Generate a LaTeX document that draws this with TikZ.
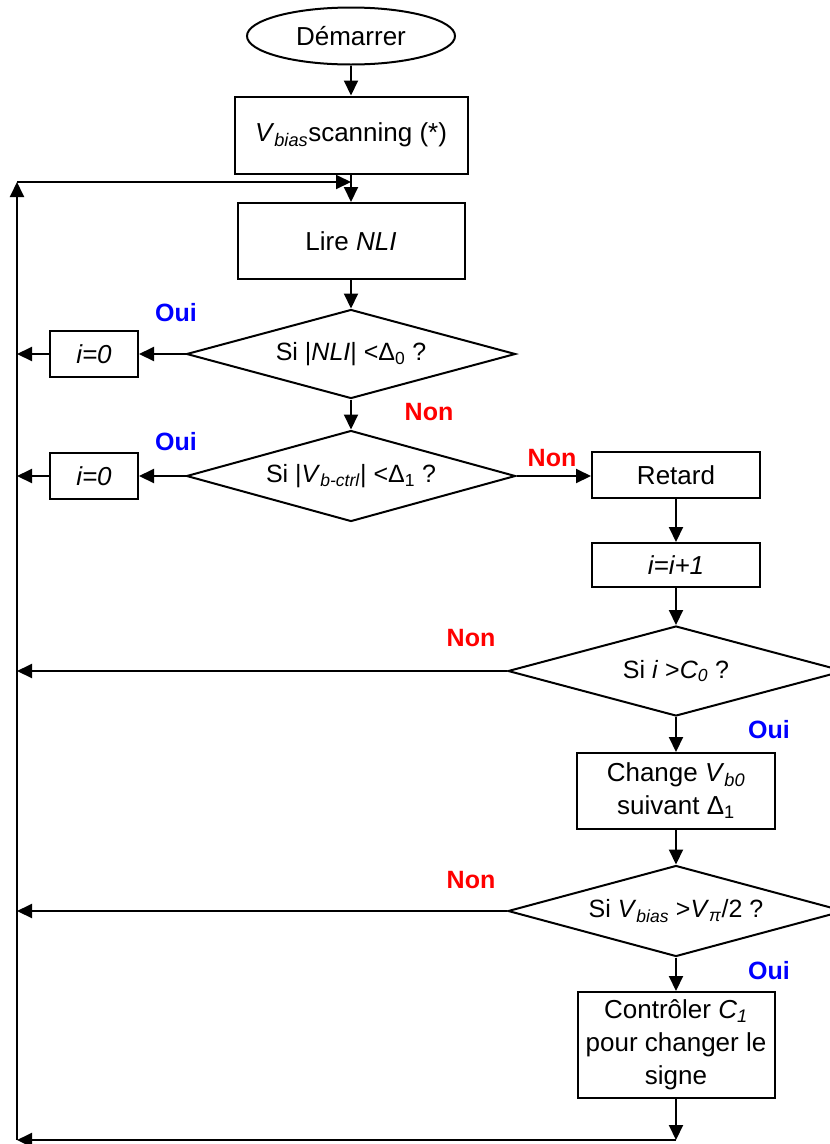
\documentclass[tikz,border=0pt]{standalone}
\usepackage{fontspec}
\setmainfont{Liberation Sans}
\usetikzlibrary{shapes.geometric,arrows.meta}
\begin{document}
\begin{tikzpicture}[x=1pt,y=-1pt, line width=2pt,
  >={Triangle[length=15pt,width=14pt]},
  box/.style={draw, rectangle, inner sep=0pt, align=center, font=\fontsize{26}{33}\selectfont},
  dia/.style={draw, diamond, inner sep=0pt, font=\fontsize{25}{30}\selectfont},
  oval/.style={draw, ellipse, inner sep=0pt, font=\fontsize{26}{33}\selectfont},
  oui/.style={text=blue, font=\bfseries\fontsize{25}{30}\selectfont},
  non/.style={text=red, font=\bfseries\fontsize{25}{30}\selectfont}]
\useasboundingbox (0,0) rectangle (830,1144);

% nodes
\node[oval, minimum width=208pt, minimum height=57pt] (start) at (351,36) {Démarrer};
\node[box, minimum width=233pt, minimum height=77pt] (scan) at (351,135) {\textit{V}\textsubscript{\textit{bias}}scanning (*)};
\node[box, minimum width=227pt, minimum height=76pt] (lire) at (351,241) {Lire \textit{NLI}};
\node[dia, aspect=3.7, minimum width=329pt, minimum height=89pt] (d1) at (351,354) {Si |\textit{NLI}| <Δ\textsubscript{0} ?};
\node[box, minimum width=88pt, minimum height=46pt] (z1) at (94,354) {\textit{i=0}};
\node[dia, aspect=3.6, minimum width=329pt, minimum height=91pt] (d2) at (351,476) {Si |\textit{V}\textsubscript{\textit{b-ctrl}}| <Δ\textsubscript{1} ?};
\node[box, minimum width=88pt, minimum height=46pt] (z2) at (94,476) {\textit{i=0}};
\node[box, minimum width=168pt, minimum height=46pt] (ret) at (676,475) {Retard};
\node[box, minimum width=168pt, minimum height=44pt] (inc) at (676,565) {\textit{i=i+1}};
\node[dia, aspect=3.73, minimum width=336pt, minimum height=90pt] (d3) at (676,671) {Si \textit{i} >\textit{C}\textsubscript{\textit{0}} ?};
\node[box, minimum width=198pt, minimum height=76pt] (chg) at (676,791) {Change \textit{V}\textsubscript{\textit{b0}}\\suivant Δ\textsubscript{1}};
\node[dia, aspect=3.69, minimum width=336pt, minimum height=91pt] (d4) at (676,911) {Si \textit{V}\textsubscript{\textit{bias}} >\textit{V}\textsubscript{\textit{π}}/2 ?};
\node[box, minimum width=197pt, minimum height=106pt] (ctl) at (676,1045) {Contrôler \textit{C}\textsubscript{\textit{1}}\\pour changer le\\signe};

% helper coordinates
\coordinate (L) at (17,182);
\coordinate (Lb) at (17,1140);
\coordinate (B) at (676,1140);
\coordinate (J) at (351,182);

% connectors
\draw[->] (start) -- (scan);
\draw[->] (scan) -- (lire);
\draw[->] (lire) -- (d1.north);
\draw[->] (d1.west) -- (z1.east);
\draw[->] (z1.west) -- (z1.west -| L);
\draw[->] (d1.south) -- (d2.north);
\draw[->] (d2.west) -- (z2.east);
\draw[->] (z2.west) -- (z2.west -| L);
\draw[->] (d2.east) -- (d2.east -| ret.west);
\draw[->] (ret) -- (inc);
\draw[->] (inc) -- (d3.north);
\draw[->] (d3.south) -- (chg);
\draw[->] (chg) -- (d4.north);
\draw[->] (d4.south) -- (ctl);
\draw[->] (d3.west) -- (d3.west -| L);
\draw[->] (d4.west) -- (d4.west -| L);
\draw[->] (ctl.south) -- (B);
\draw[->] (B) -- (Lb);
\draw[->] (Lb) -- (L);
\draw[->] (L) -- (J);

% labels
\node[oui] (o1) at (176,313) {Oui};
\node[non] (n1) at (429,412) {Non};
\node[oui] (o2) at (176,442) {Oui};
\node[non] (n2) at (552,458) {Non};
\node[non] (n3) at (471,638) {Non};
\node[oui] (o3) at (769,730) {Oui};
\node[non] (n4) at (471,880) {Non};
\node[oui] (o4) at (769,971) {Oui};
\end{tikzpicture}
\end{document}
